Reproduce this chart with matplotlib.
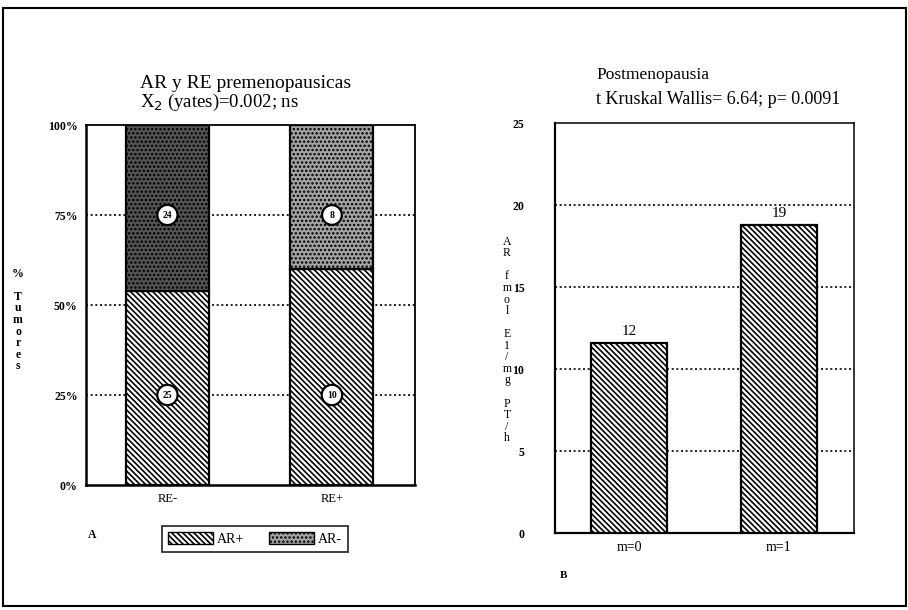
import matplotlib
matplotlib.use("Agg")
import matplotlib.pyplot as plt
from matplotlib.patches import Rectangle, Patch

plt.rcParams['font.family'] = ['Liberation Serif', 'DejaVu Serif']
plt.rcParams['hatch.linewidth'] = 1.2

# ---- data ----
groups_a = ["RE-", "RE+"]
ar_pos_pct = [54, 60]          # % AR+ (bar height)
ar_neg_pct = [46, 40]          # % AR-
ar_pos_n = [25, 10]
ar_neg_n = [24, 8]
yticks_a = [0, 25, 50, 75, 100]
yticklabels_a = ["0%", "25%", "50%", "75%", "100%"]

groups_b = ["m=0", "m=1"]
ar_fmol = [11.6, 18.8]
bar_labels_b = ["12", "19"]
yticks_b = [0, 5, 10, 15, 20, 25]

HATCH = '\\' * 6

W, H = 908, 610
fig = plt.figure(figsize=(W / 100, H / 100), dpi=100)

def ax_px(l, t, r, b):
    return fig.add_axes([l / W, 1 - b / H, (r - l) / W, (b - t) / H])

# outer frame
fig.patches.append(Rectangle((3 / W, 4 / H), 903 / W, 598 / H, transform=fig.transFigure,
                             fill=False, edgecolor='black', linewidth=1.5))

# ---------------- Panel A ----------------
axA = ax_px(86, 125, 415, 485)
x = range(len(groups_a))
axA.bar(x, ar_pos_pct, width=0.505, facecolor='white', edgecolor='black',
        hatch=HATCH, linewidth=1.6, zorder=3)
axA.bar(x, ar_neg_pct, bottom=ar_pos_pct, width=0.505,
        color=['#555555', '#a5a5a5'], edgecolor='black', hatch='....',
        linewidth=1.6, zorder=3)
for i in x:
    axA.text(i, 25, str(ar_pos_n[i]), ha='center', va='center', fontsize=7,
             fontweight='bold', zorder=5,
             bbox=dict(boxstyle='circle,pad=0.55', fc='white', ec='black', lw=1.6))
    axA.text(i, 75, str(ar_neg_n[i]), ha='center', va='center', fontsize=7,
             fontweight='bold', zorder=5,
             bbox=dict(boxstyle='circle,pad=0.55', fc='white', ec='black', lw=1.6))
axA.set_xlim(-0.495, 1.505)
axA.set_ylim(0, 100)
axA.set_yticks(yticks_a)
axA.set_yticklabels(yticklabels_a, fontsize=8.5, fontweight='bold')
axA.set_xticks(list(x))
axA.set_xticklabels(groups_a, fontsize=9)
axA.tick_params(axis='both', length=0, pad=6)
for yv in yticks_a[1:-1]:
    axA.axhline(yv, color='black', linestyle=(0, (1.2, 1.6)), linewidth=1.2, zorder=1)
for s in axA.spines.values():
    s.set_linewidth(1.3)
axA.spines['left'].set_linewidth(1.8)
axA.spines['bottom'].set_linewidth(1.8)

fig.text(140 / W, 1 - 84 / H, "AR y RE premenopausicas", fontsize=14, va='center')
fig.text(140 / W, 1 - 102 / H, "X$_2$ (yates)=0.002; ns", fontsize=13.5, va='center')
fig.text(18 / W, 1 - 320 / H, "%\n\nT\nu\nm\no\nr\ne\ns", fontsize=8.5, fontweight='bold',
         ha='center', va='center', linespacing=0.95)
fig.text(88 / W, 1 - 535 / H, "A", fontsize=8.5, fontweight='bold', va='center')

handles = [Patch(facecolor='white', edgecolor='black', hatch=HATCH, label='AR+'),
           Patch(facecolor='#a5a5a5', edgecolor='black', hatch='....', label='AR-')]
leg = fig.legend(handles=handles, loc='center', bbox_to_anchor=(255 / W, 1 - 539 / H),
                 ncol=2, frameon=True, fancybox=False, edgecolor='black', fontsize=10,
                 handlelength=3.2, handleheight=1.0, columnspacing=1.8, handletextpad=0.3,
                 borderpad=0.45)
leg.get_frame().set_linewidth(1.3)

# ---------------- Panel B ----------------
axB = ax_px(555, 123, 854, 533)
xb = range(len(groups_b))
bars = axB.bar(xb, ar_fmol, width=0.507, facecolor='white', edgecolor='black',
               hatch=HATCH, linewidth=1.6, zorder=3)
for i, b in enumerate(bars):
    axB.text(b.get_x() + b.get_width() / 2, b.get_height() + 0.3, bar_labels_b[i],
             ha='center', va='bottom', fontsize=11)
axB.set_xlim(-0.493, 1.5)
axB.set_ylim(0, 25)
axB.set_yticks(yticks_b)
axB.set_yticklabels([str(v) for v in yticks_b], fontsize=8.5, fontweight='bold')
axB.set_xticks(list(xb))
axB.set_xticklabels(groups_b, fontsize=10)
axB.tick_params(axis='both', length=0, pad=22)
axB.tick_params(axis='x', pad=6)
for yv in yticks_b[1:-1]:
    axB.axhline(yv, color='black', linestyle=(0, (1.2, 1.6)), linewidth=1.2, zorder=1)
for s in axB.spines.values():
    s.set_linewidth(1.1)
axB.spines['left'].set_linewidth(1.6)
axB.spines['bottom'].set_linewidth(1.6)

fig.text(596 / W, 1 - 75 / H, "Postmenopausia", fontsize=12.5, va='center')
fig.text(596 / W, 1 - 99 / H, "t Kruskal Wallis= 6.64; p= 0.0091", fontsize=13, va='center')
fig.text(507 / W, 1 - 340 / H, "A\nR\n\nf\nm\no\nl\n\nE\n1\n/\nm\ng\n\nP\nT\n/\nh",
         fontsize=8.5, ha='center', va='center', linespacing=0.95)
fig.text(560 / W, 1 - 576 / H, "B", fontsize=8, fontweight='bold', va='center')

fig.savefig("out.png", dpi=100)
